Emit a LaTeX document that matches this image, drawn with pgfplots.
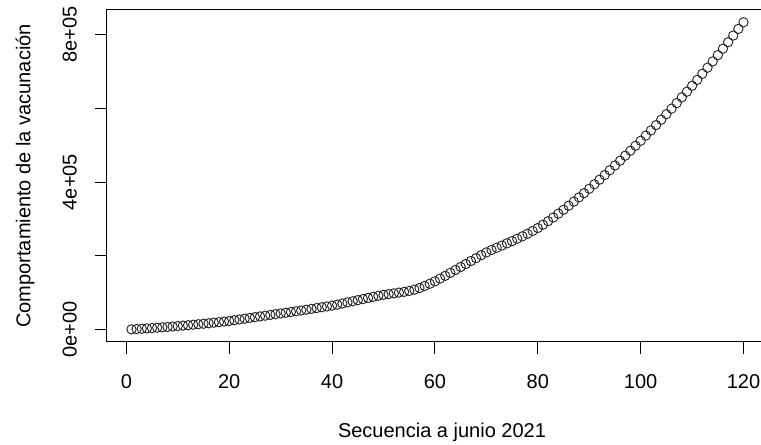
\documentclass[border=0pt]{standalone}
\usepackage{pgfplots}
\pgfplotsset{compat=1.18}
\usepackage{fontspec}
\setmainfont{Liberation Sans}
\begin{document}
\fontsize{15}{18}\selectfont
\begin{tikzpicture}
\path[use as bounding box] (-80.25pt,-77.25pt) rectangle (490.5pt,256.5pt);
\begin{axis}[
  at={(0,0)}, anchor=south west,
  scale only axis, width=495.75pt, height=249pt,
  xmin=-3.76, xmax=124.76, ymin=-33320, ymax=866320,
  axis line style={line width=0.75pt, black},
  tick align=outside, major tick length=9pt,
  tick style={black, line width=0.75pt},
  xtick={0,20,...,120}, ytick={0,200000,400000,600000,800000},
  yticklabels={0e+00,,4e+05,,8e+05},
  scaled y ticks=false,
  xtick pos=bottom, ytick pos=left,
  /pgf/number format/assume math mode=true,
  xticklabel style={anchor=north, inner sep=0pt, yshift=-15pt},
  yticklabel style={xshift=-13.5pt, rotate=90, anchor=south, inner sep=0pt},
  xlabel={Secuencia a junio 2021},
  ylabel={Comportamiento de la vacunación},
  every axis x label/.style={at={(axis description cs:0,0)}, xshift=251.25pt, yshift=-67.5pt, anchor=center},
  every axis y label/.style={at={(axis description cs:0,0.5)}, xshift=-61.5pt, rotate=90, anchor=center},
]
\addplot[only marks, mark=o, mark size=3.5pt, mark options={line width=0.7pt, draw=black!85}] table {
x y
1 1000
2 1800
3 2600
4 3500
5 4400
6 5400
7 6400
8 7500
9 8600
10 9800
11 11000
12 12200
13 13500
14 14800
15 16100
16 17500
17 19000
18 20500
19 22000
20 23500
21 25600
22 27700
23 29800
24 31900
25 34000
26 36000
27 38000
28 40000
29 42000
30 44000
31 46000
32 48000
33 50000
34 52000
35 54200
36 56400
37 58600
38 60800
39 63000
40 65200
41 68000
42 71000
43 74000
44 77000
45 80000
46 83000
47 86000
48 89000
49 92000
50 94500
51 96500
52 98500
53 100500
54 102500
55 105000
56 108500
57 113000
58 118500
59 124500
60 131000
61 138500
62 146000
63 154000
64 162000
65 170000
66 178000
67 186000
68 194000
69 202000
70 209500
71 216000
72 222000
73 228000
74 234000
75 240000
76 246500
77 253000
78 260000
79 267500
80 275500
81 284500
82 294000
83 304000
84 314500
85 325000
86 336000
87 347000
88 358500
89 370000
90 382000
91 394000
92 406500
93 419000
94 432000
95 445000
96 458000
97 471500
98 485000
99 498500
100 512000
101 526000
102 540000
103 554500
104 569000
105 584000
106 599000
107 614000
108 629500
109 645000
110 661000
111 677000
112 693500
113 710000
114 727000
115 744000
116 761500
117 779000
118 797000
119 815000
120 833000
};
\end{axis}
\end{tikzpicture}
\end{document}
